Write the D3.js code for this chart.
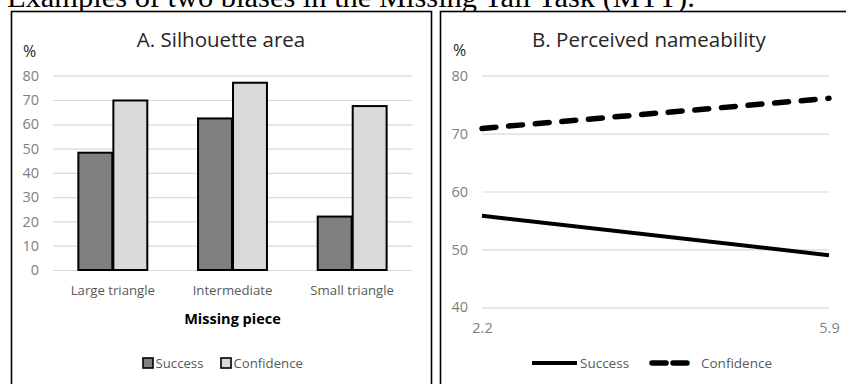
<!DOCTYPE html>
<html>
<head>
<meta charset="utf-8">
<script src="https://cdn.jsdelivr.net/npm/d3@7"></script>
<style>
  html, body { margin: 0; padding: 0; background: #fff; }
  svg { display: block; }
</style>
</head>
<body>
<svg id="chart" width="846" height="384"></svg>
<script>
// ---- Data ----
const pageTitle = "Examples of two biases in the Missing Tail Task (MTT).";
const categories = ["Large triangle", "Intermediate", "Small triangle"];
const seriesNames = ["Success", "Confidence"];
const successArea = [48.3, 62.4, 22.0];
const confidenceArea = [69.8, 77.1, 67.5];
const areaTicks = [0, 10, 20, 30, 40, 50, 60, 70, 80];

const nameabilityX = [2.2, 5.9];
const successName = [55.8, 49.0];
const confidenceName = [70.9, 76.1];
const nameTicks = [40, 50, 60, 70, 80];

const barColors = ["#808080", "#d9d9d9"];
const FONT = "'Open Sans', 'Noto Sans', sans-serif";

const svg = d3.select("#chart");

// ---- Page title (cut off at top, as in the source) ----
const t = svg.append("text")
  .attr("x", 7).attr("y", 7)
  .attr("font-family", "'Liberation Serif', 'Times New Roman', serif")
  .attr("font-size", 100)
  .attr("fill", "#000")
  .text(pageTitle);
const w100 = t.node().getComputedTextLength();
t.attr("font-size", 100 * 688 / w100);

// ---- Panel frames ----
svg.append("rect").attr("x", 11.5).attr("y", 11.5).attr("width", 420).attr("height", 400)
  .attr("fill", "#fff").attr("stroke", "#000").attr("stroke-width", 1.6);
svg.append("rect").attr("x", 440.5).attr("y", 11.5).attr("width", 420).attr("height", 400)
  .attr("fill", "#fff").attr("stroke", "#000").attr("stroke-width", 1.6);

// ================= Panel A =================
const A = svg.append("g");
const yA = d3.scaleLinear().domain([0, 80]).range([270, 75.7]);
const xA = d3.scaleBand().domain(categories).range([53, 412]).paddingInner(0.424).paddingOuter(0.212);
const xSub = d3.scaleBand().domain(seriesNames).range([0, xA.bandwidth()]).paddingInner(0.03);

const gridA = A.append("g").attr("transform", "translate(53,0)")
  .call(d3.axisLeft(yA).tickValues(areaTicks).tickSize(-(412 - 53)).tickPadding(14));
gridA.select(".domain").remove();
gridA.selectAll(".tick line").attr("stroke", "#d9d9d9").attr("stroke-width", 1.2);
gridA.selectAll(".tick text").attr("fill", "#7f7f7f").attr("font-size", 14.5).attr("font-family", FONT);

const xAxisA = A.append("g").attr("transform", "translate(0,270)")
  .call(d3.axisBottom(xA).tickSize(0));
xAxisA.select(".domain").remove();
xAxisA.selectAll(".tick text").attr("y", 25).attr("dy", 0)
  .attr("fill", "#595959").attr("font-size", 13.2).attr("font-family", FONT);

const barData = [];
categories.forEach((c, i) => {
  barData.push({cat: c, s: "Success", v: successArea[i], k: 0});
  barData.push({cat: c, s: "Confidence", v: confidenceArea[i], k: 1});
});
A.append("g").selectAll("rect").data(barData).join("rect")
  .attr("x", d => xA(d.cat) + xSub(d.s))
  .attr("width", xSub.bandwidth())
  .attr("y", d => yA(d.v))
  .attr("height", d => yA(0) - yA(d.v))
  .attr("fill", d => barColors[d.k])
  .attr("stroke", "#000").attr("stroke-width", 2);

A.append("text").attr("x", 221).attr("y", 47).attr("text-anchor", "middle")
  .attr("font-family", FONT).attr("font-size", 20.5).attr("fill", "#262626").text("A. Silhouette area");
A.append("text").attr("x", 23).attr("y", 57)
  .attr("font-family", FONT).attr("font-size", 16).attr("fill", "#262626").text("%");
A.append("text").attr("x", 232.5).attr("y", 324).attr("text-anchor", "middle")
  .attr("font-family", FONT).attr("font-size", 14.5).attr("font-weight", "bold").attr("fill", "#000").text("Missing piece");

// Legend A
const legA = A.append("g");
const legAx = [143, 221];
seriesNames.forEach((s, i) => {
  legA.append("rect").attr("x", legAx[i]).attr("y", 358).attr("width", 10).attr("height", 10)
    .attr("fill", barColors[i]).attr("stroke", "#000").attr("stroke-width", 1.6);
  legA.append("text").attr("x", legAx[i] + 12.5).attr("y", 367.5)
    .attr("font-family", FONT).attr("font-size", 13.2).attr("fill", "#595959").text(s);
});

// ================= Panel B =================
const B = svg.append("g");
const yB = d3.scaleLinear().domain([40, 80]).range([307.3, 75.7]);
const xB = d3.scaleLinear().domain([2.2, 5.9]).range([482, 829]);

const gridB = B.append("g").attr("transform", "translate(482,0)")
  .call(d3.axisLeft(yB).tickValues(nameTicks).tickSize(-(829 - 482)).tickPadding(14));
gridB.select(".domain").remove();
gridB.selectAll(".tick line").attr("stroke", "#d9d9d9").attr("stroke-width", 1.2);
gridB.selectAll(".tick text").attr("fill", "#7f7f7f").attr("font-size", 14.5).attr("font-family", FONT);

const xAxisB = B.append("g").attr("transform", "translate(0,307.3)")
  .call(d3.axisBottom(xB).tickValues(nameabilityX).tickFormat(d3.format(".1f")).tickSize(0));
xAxisB.select(".domain").remove();
xAxisB.selectAll(".tick text").attr("y", 26).attr("dy", 0)
  .attr("fill", "#7f7f7f").attr("font-size", 14.5).attr("font-family", FONT);

const line = d3.line().x(d => xB(d[0])).y(d => yB(d[1]));
B.append("path").datum(nameabilityX.map((x, i) => [x, successName[i]]))
  .attr("d", line).attr("fill", "none").attr("stroke", "#000").attr("stroke-width", 4);
B.append("path").datum(nameabilityX.map((x, i) => [x, confidenceName[i]]))
  .attr("d", line).attr("fill", "none").attr("stroke", "#000").attr("stroke-width", 5.5)
  .attr("stroke-dasharray", "14,12.7").attr("stroke-linecap", "round");

B.append("text").attr("x", 649).attr("y", 47).attr("text-anchor", "middle")
  .attr("font-family", FONT).attr("font-size", 20.5).attr("fill", "#262626").text("B. Perceived nameability");
B.append("text").attr("x", 453).attr("y", 56)
  .attr("font-family", FONT).attr("font-size", 16).attr("fill", "#262626").text("%");

// Legend B
const legB = B.append("g");
legB.append("line").attr("x1", 532).attr("x2", 577).attr("y1", 363).attr("y2", 363)
  .attr("stroke", "#000").attr("stroke-width", 4);
legB.append("text").attr("x", 580).attr("y", 367.5)
  .attr("font-family", FONT).attr("font-size", 13.5).attr("fill", "#595959").text(seriesNames[0]);
legB.append("line").attr("x1", 652).attr("x2", 688).attr("y1", 363).attr("y2", 363)
  .attr("stroke", "#000").attr("stroke-width", 5.5)
  .attr("stroke-dasharray", "14,7").attr("stroke-linecap", "round");
legB.append("text").attr("x", 701).attr("y", 367.5)
  .attr("font-family", FONT).attr("font-size", 13.5).attr("fill", "#595959").text(seriesNames[1]);
</script>
</body>
</html>
